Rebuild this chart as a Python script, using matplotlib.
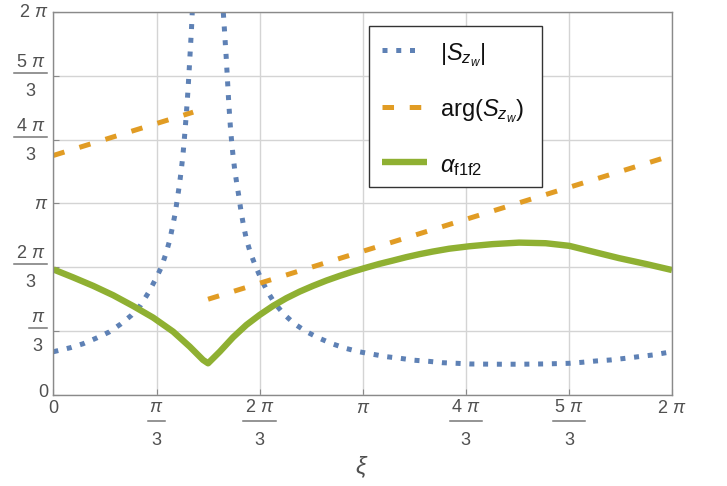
import numpy as np
import matplotlib
matplotlib.use("Agg")
import matplotlib.pyplot as plt
import matplotlib.transforms as mtransforms
from matplotlib.lines import Line2D
from matplotlib.patches import Rectangle

plt.rcParams['mathtext.fontset'] = 'custom'
plt.rcParams['mathtext.rm'] = 'Liberation Sans'
plt.rcParams['mathtext.it'] = 'Liberation Sans:italic'
plt.rcParams['mathtext.bf'] = 'Liberation Sans:bold'
plt.rcParams['font.family'] = ['Liberation Sans', 'DejaVu Sans']
plt.rcParams['lines.scale_dashes'] = False

PI = np.pi

# ---- data (radians) ----
# |S_zw| : left branch (diverges at xi = pi/2)
s_left_xi = [0.0, 0.175, 0.30, 0.44, 0.567, 0.686, 0.794, 0.888, 0.966, 1.034,
             1.095, 1.142, 1.18, 1.21, 1.237, 1.26, 1.28, 1.298, 1.314, 1.327,
             1.339, 1.350, 1.360, 1.369, 1.378, 1.386, 1.394, 1.402, 1.409, 1.417]
s_left_val = [0.71, 0.777, 0.84, 0.936, 1.034, 1.166, 1.31, 1.478, 1.68, 1.888,
              2.09, 2.315, 2.53, 2.76, 2.98, 3.23, 3.45, 3.68, 3.91, 4.14,
              4.38, 4.61, 4.83, 5.06, 5.30, 5.53, 5.76, 5.99, 6.23, 6.5]
# |S_zw| : right branch
s_right_xi = [1.718, 1.727, 1.737, 1.746, 1.755, 1.763, 1.771, 1.779, 1.788, 1.798,
              1.810, 1.824, 1.841, 1.862, 1.885, 1.906, 1.930, 1.96, 2.00, 2.052,
              2.108, 2.173, 2.248, 2.342, 2.45, 2.569, 2.694, 2.829, 2.968, 3.10,
              3.245, 3.38, 3.522, 3.667, 3.81, 3.948, 4.096, 4.232, 4.5, 4.75,
              5.0, 5.24, 5.374, 5.51, 5.66, 5.80, 5.95, 6.09, 6.283]
s_right_val = [6.5, 6.245, 6.00, 5.77, 5.545, 5.315, 5.085, 4.855, 4.625, 4.395,
               4.165, 3.935, 3.705, 3.475, 3.245, 3.01, 2.79, 2.557, 2.337, 2.118,
               1.91, 1.70, 1.505, 1.325, 1.166, 1.04, 0.936, 0.842, 0.766, 0.711,
               0.668, 0.629, 0.602, 0.57, 0.553, 0.53, 0.52, 0.509, 0.505, 0.505,
               0.51, 0.52, 0.537, 0.558, 0.575, 0.60, 0.63, 0.657, 0.71]

# arg(S_zw): two straight pieces
arg1_xi = [0.0, 1.42]
arg1_val = [3.93, 4.64]
arg2_xi = [1.571, 6.283]
arg2_val = [1.571, 3.93]

# alpha_f1f2
a_xi = [0.0, 0.20, 0.405, 0.607, 0.81, 1.013, 1.216, 1.385, 1.52, 1.571,
        1.690, 1.825, 1.960, 2.095, 2.230, 2.366, 2.501, 2.636, 2.772, 2.907,
        3.042, 3.178, 3.312, 3.447, 3.583, 3.718, 3.853, 4.02, 4.225, 4.46,
        4.73, 5.0, 5.24, 5.475, 5.746, 6.017, 6.283]
a_val = [2.06, 1.93, 1.79, 1.637, 1.46, 1.27, 1.04, 0.793, 0.575, 0.52,
         0.711, 0.947, 1.149, 1.314, 1.461, 1.588, 1.696, 1.790, 1.877, 1.954,
         2.025, 2.090, 2.151, 2.205, 2.261, 2.310, 2.353, 2.40, 2.44, 2.475,
         2.50, 2.49, 2.447, 2.353, 2.245, 2.15, 2.05]

tick_vals = [0, PI/3, 2*PI/3, PI, 4*PI/3, 5*PI/3, 2*PI]
# (numerator, denominator) ; denominator None -> plain label
tick_labels = [('0', None), (r'$\pi$', '3'), (r'$2\ \pi$', '3'), (r'$\pi$', None),
               (r'$4\ \pi$', '3'), (r'$5\ \pi$', '3'), (r'$2\ \pi$', None)]

legend_labels = [r'$|S_{z_w}|$', r'$\mathrm{arg}(S_{z_w})$', r'$\alpha_{\mathrm{f1f2}}$']

BLUE = '#5E81B5'
ORANGE = '#E19C24'
GREEN = '#8FB032'
TXT = '#505050'

W, H = 727, 486
fig = plt.figure(figsize=(W/100, H/100), dpi=100)
ax = fig.add_axes([53.4/W, 1-395/H, (672-53.4)/W, (395-12)/H])

dot = dict(color=BLUE, lw=3.6, dashes=(3.6, 6.3), dash_capstyle='butt')
l1, = ax.plot(s_left_xi, s_left_val, **dot)
ax.plot(s_right_xi, s_right_val, **dot)
dsh = dict(color=ORANGE, lw=3.6, dashes=(8.3, 11.3), dash_capstyle='butt')
l2, = ax.plot(arg1_xi, arg1_val, **dsh)
ax.plot(arg2_xi, arg2_val, **dsh)
grn = dict(color=GREEN, lw=4.6, solid_joinstyle='round', solid_capstyle='butt')
l3, = ax.plot(a_xi, a_val, **grn)

ax.set_xlim(0, 2*PI)
ax.set_ylim(0, 2*PI)
ax.set_xticks(tick_vals)
ax.set_yticks(tick_vals)
ax.set_xticklabels([])
ax.set_yticklabels([])
ax.grid(True, color='#d4d4d4', lw=1.0)
ax.set_axisbelow(True)
for s in ax.spines.values():
    s.set_color('#8a8a8a')
    s.set_linewidth(1.0)
ax.tick_params(direction='in', length=4, color='#8a8a8a')

# ---- tick labels, Mathematica style (stacked fractions), in pixel coords ----
ident = mtransforms.IdentityTransform()
renderer = fig.canvas.get_renderer()
TFS = 13


def ptext(x, ytop, s, **kw):
    return fig.text(x, H - ytop, s, transform=ident, fontsize=TFS, color=TXT, **kw)


def pline(x0, x1, ytop, **kw):
    fig.add_artist(Line2D([x0, x1], [H - ytop, H - ytop], transform=ident, **kw))


bar_kw = dict(color='#777777', lw=1.1)
for v, (num, den) in zip(tick_vals, tick_labels):
    xp = ax.transData.transform((v, 0))[0]
    yp = H - ax.transData.transform((0, v))[1]
    # x axis
    if den is None:
        ptext(xp, 413, num, ha='center', va='baseline')
    else:
        t = ptext(xp, 412, num, ha='center', va='baseline')
        bw = t.get_window_extent(renderer).width + 3
        pline(xp - bw/2, xp + bw/2, 421, **bar_kw)
        ptext(xp, 445, den, ha='center', va='baseline')
    # y axis
    if den is None:
        off = 2 if v == 0 else 5
        ptext(48, yp + off, num, ha='right', va='baseline')
    else:
        t = ptext(0, yp - 9, num, ha='center', va='baseline')
        bw = t.get_window_extent(renderer).width + 4
        xc = 47 - bw/2
        t.set_x(xc)
        pline(xc - bw/2, xc + bw/2, yp - 3, **bar_kw)
        ptext(xc, yp + 20, den, ha='center', va='baseline')

fig.text(362, H - 474, r'$\xi$', transform=ident, fontsize=17, color=TXT,
         ha='center', va='baseline')

# ---- legend (drawn in pixel coordinates) ----
fig.add_artist(Rectangle((369, H - 187), 542 - 369, 187 - 26, transform=ident,
                         facecolor='white', edgecolor='#333333', lw=1.0))
rows = [50, 107.3, 161.7]
ends = [420, 422, 427.3]
styles = [dot, dsh, grn]
bases = [60, 116, 172]
for r, e, st, b, lab in zip(rows, ends, styles, bases, legend_labels):
    fig.add_artist(Line2D([381.7, e], [H - r, H - r], transform=ident, **st))
    fig.text(440, H - b, lab, transform=ident, fontsize=17, color='#111111',
             ha='left', va='baseline')

fig.savefig('out.png', dpi=100)
